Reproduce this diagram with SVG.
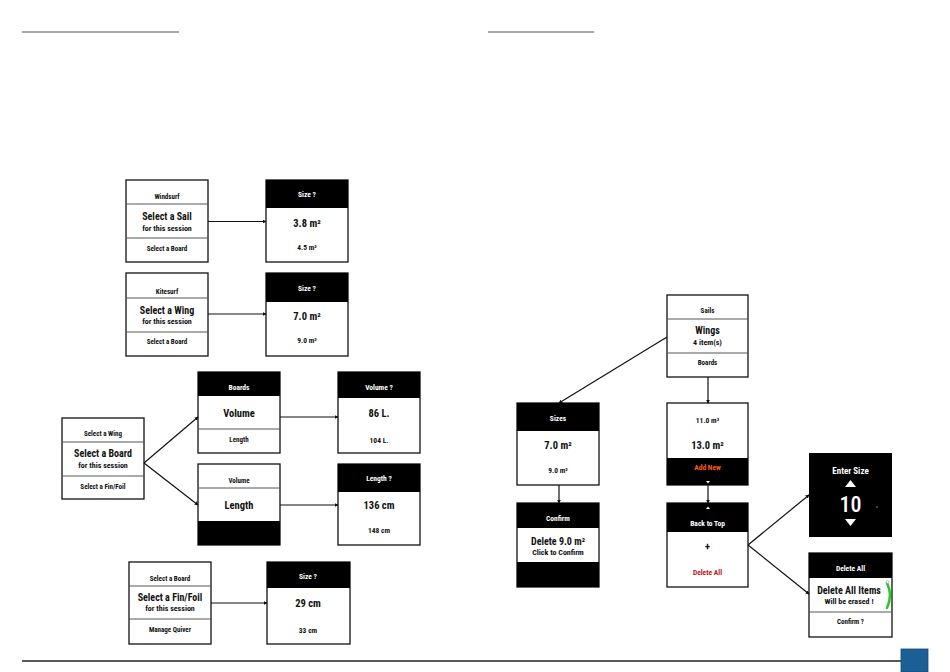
<svg xmlns="http://www.w3.org/2000/svg" width="950" height="672" viewBox="0 0 950 672">
<defs>
<style>
text{font-family:"Roboto Condensed",Roboto,"Liberation Sans",sans-serif;font-weight:bold;text-anchor:middle;dominant-baseline:central;fill:#111}
.box{fill:#fff;stroke:#111;stroke-width:1.3}
.blk{fill:#000}
.div{stroke:#555;stroke-width:1}
.h{font-size:7px}
.hw{font-size:7.5px;fill:#fff}
.m{font-size:10px}
.s{font-size:7.5px}
.t{font-size:8px}
.v{font-size:10.5px}
.conn line{stroke:#111;stroke-width:1.2;marker-end:url(#ah)}
</style>
<marker id="ah" viewBox="0 0 6 6" refX="5" refY="3" markerWidth="4" markerHeight="4" orient="auto" markerUnits="userSpaceOnUse">
<path d="M0,0 L6,3 L0,6 z" fill="#111"/>
</marker>
</defs>
<rect width="950" height="672" fill="#fff"/>
<line x1="22" y1="32" x2="179" y2="32" stroke="#aaa" stroke-width="2"/>
<line x1="488" y1="32" x2="594" y2="32" stroke="#aaa" stroke-width="2"/>

<g id="windsurf">
<rect class="box" x="126" y="180" width="82" height="82"/>
<line class="div" x1="126" y1="204" x2="208" y2="204"/>
<line class="div" x1="126" y1="238" x2="208" y2="238"/>
<text class="h" x="167" y="197">Windsurf</text>
<text class="m" x="167" y="216">Select a Sail</text>
<text class="t" x="167" y="228">for this session</text>
<text class="h" x="167" y="249">Select a Board</text>
</g>
<g id="size1">
<rect class="box" x="266" y="180" width="82" height="82"/>
<rect class="blk" x="266" y="180" width="82" height="28"/>
<text class="hw" x="307" y="194">Size ?</text>
<text class="v" x="307" y="223">3.8 m²</text>
<text class="s" x="307" y="247">4.5 m²</text>
</g>

<g id="kitesurf">
<rect class="box" x="126" y="273" width="82" height="83"/>
<line class="div" x1="126" y1="298" x2="208" y2="298"/>
<line class="div" x1="126" y1="332" x2="208" y2="332"/>
<text class="h" x="167" y="292">Kitesurf</text>
<text class="m" x="167" y="310">Select a Wing</text>
<text class="t" x="167" y="321">for this session</text>
<text class="h" x="167" y="342">Select a Board</text>
</g>
<g id="size2">
<rect class="box" x="266" y="273" width="82" height="83"/>
<rect class="blk" x="266" y="273" width="82" height="29"/>
<text class="hw" x="307" y="288">Size ?</text>
<text class="v" x="307" y="316">7.0 m²</text>
<text class="s" x="307" y="340">9.0 m²</text>
</g>

<g id="board">
<rect class="box" x="62" y="418" width="82" height="81"/>
<line class="div" x1="62" y1="442" x2="144" y2="442"/>
<line class="div" x1="62" y1="476" x2="144" y2="476"/>
<text class="h" x="103" y="434">Select a Wing</text>
<text class="m" x="103" y="453">Select a Board</text>
<text class="t" x="103" y="465">for this session</text>
<text class="h" x="103" y="487">Select a Fin/Foil</text>
</g>
<g id="boards">
<rect class="box" x="198" y="372" width="82" height="81"/>
<rect class="blk" x="198" y="372" width="82" height="24"/>
<line class="div" x1="198" y1="429" x2="280" y2="429"/>
<text class="hw" x="239" y="387">Boards</text>
<text class="v" x="239" y="413">Volume</text>
<text class="h" x="239" y="440">Length</text>
</g>
<g id="volume">
<rect class="box" x="198" y="464" width="82" height="81"/>
<line class="div" x1="198" y1="488" x2="280" y2="488"/>
<rect class="blk" x="198" y="521" width="82" height="24"/>
<text class="h" x="239" y="481">Volume</text>
<text class="v" x="239" y="505">Length</text>
</g>
<g id="volq">
<rect class="box" x="338" y="372" width="82" height="81"/>
<rect class="blk" x="338" y="372" width="82" height="26"/>
<text class="hw" x="379" y="387">Volume ?</text>
<text class="v" x="379" y="413">86 L.</text>
<text class="s" x="379" y="440">104 L.</text>
</g>
<g id="lenq">
<rect class="box" x="338" y="464" width="82" height="81"/>
<rect class="blk" x="338" y="464" width="82" height="28"/>
<text class="hw" x="379" y="478">Length ?</text>
<text class="v" x="379" y="505">136 cm</text>
<text class="s" x="379" y="530">148 cm</text>
</g>

<g id="finfoil">
<rect class="box" x="129" y="562" width="82" height="82"/>
<line class="div" x1="129" y1="586" x2="211" y2="586"/>
<line class="div" x1="129" y1="619" x2="211" y2="619"/>
<text class="h" x="170" y="579">Select a Board</text>
<text class="m" x="170" y="597">Select a Fin/Foil</text>
<text class="t" x="170" y="608">for this session</text>
<text class="h" x="170" y="630">Manage Quiver</text>
</g>
<g id="size3">
<rect class="box" x="267" y="562" width="83" height="82"/>
<rect class="blk" x="267" y="562" width="83" height="26"/>
<text class="hw" x="308" y="576">Size ?</text>
<text class="v" x="308" y="603">29 cm</text>
<text class="s" x="308" y="630">33 cm</text>
</g>

<g id="sails">
<rect class="box" x="667" y="295" width="81" height="82"/>
<line class="div" x1="667" y1="319" x2="748" y2="319"/>
<line class="div" x1="667" y1="353" x2="748" y2="353"/>
<text class="h" x="707.5" y="311">Sails</text>
<text class="m" x="707.5" y="330">Wings</text>
<text class="t" x="707.5" y="342">4 item(s)</text>
<text class="h" x="707.5" y="363">Boards</text>
</g>
<g id="sizes">
<rect class="box" x="517" y="403" width="82" height="82"/>
<rect class="blk" x="517" y="403" width="82" height="28"/>
<text class="hw" x="558" y="418">Sizes</text>
<text class="v" x="558" y="445">7.0 m²</text>
<text class="s" x="558" y="470">9.0 m²</text>
</g>
<g id="list">
<rect class="box" x="667" y="403" width="81" height="82"/>
<rect class="blk" x="667" y="458" width="81" height="27"/>
<text class="s" x="707.5" y="420">11.0 m²</text>
<text class="v" x="707.5" y="445">13.0 m²</text>
<text class="hw" x="707.5" y="467" style="fill:#ff5a1a">Add New</text>
<path d="M706,481 L710,481 L708,483.5 z" fill="#fff"/>
</g>
<g id="confirm">
<rect class="box" x="517" y="503" width="82" height="84"/>
<rect class="blk" x="517" y="503" width="82" height="25"/>
<rect class="blk" x="517" y="562" width="82" height="25"/>
<text class="hw" x="558" y="518">Confirm</text>
<text class="m" x="558" y="541">Delete 9.0 m²</text>
<text class="t" x="558" y="552">Click to Confirm</text>
</g>
<g id="backtop">
<rect class="box" x="667" y="503" width="81" height="84"/>
<rect class="blk" x="667" y="503" width="81" height="29"/>
<path d="M706,509 L710,509 L708,506.5 z" fill="#fff"/>
<text class="hw" x="707.5" y="523">Back to Top</text>
<text class="v" x="707.5" y="546">+</text>
<text class="s" x="707.5" y="572" style="fill:#c41414">Delete All</text>
</g>
<g id="entersize">
<rect x="809" y="453" width="83" height="84" fill="#000"/>
<text class="hw" x="850.5" y="471" style="font-size:9px">Enter Size</text>
<path d="M845,487 L856,487 L850.5,480 z" fill="#fff"/>
<text x="850.5" y="504" style="font-size:22px;font-weight:500;fill:#fff">10</text>
<path d="M845,519 L856,519 L850.5,526 z" fill="#fff"/>
<circle cx="877" cy="507" r="0.7" fill="#aaa"/>
</g>
<g id="deleteall">
<rect class="box" x="809" y="553" width="83" height="84"/>
<rect class="blk" x="809" y="553" width="83" height="25"/>
<line class="div" x1="809" y1="612" x2="892" y2="612"/>
<text class="hw" x="850.5" y="568">Delete All</text>
<text class="m" x="849" y="590">Delete All Items</text>
<text class="t" x="849" y="601">Will be erased !</text>
<path d="M887,583 Q893,595 887,608" fill="none" stroke="#22cc22" stroke-width="2.5" stroke-linecap="round"/>
<circle cx="887.5" cy="582" r="1.4" fill="#fff" stroke="#999" stroke-width="0.6"/>
<text class="h" x="850.5" y="622">Confirm ?</text>
</g>

<g class="conn" id="connectors">
<line x1="208" y1="221.5" x2="266" y2="221.5"/>
<line x1="208" y1="314" x2="266" y2="314"/>
<line x1="144" y1="463" x2="198" y2="417"/>
<line x1="144" y1="463" x2="198" y2="505"/>
<line x1="280" y1="417" x2="338" y2="417"/>
<line x1="280" y1="505" x2="338" y2="505"/>
<line x1="211" y1="603" x2="267" y2="603"/>
<line x1="667" y1="337" x2="559" y2="403"/>
<line x1="708" y1="377" x2="708" y2="403"/>
<line x1="559" y1="485" x2="559" y2="503"/>
<line x1="708" y1="485" x2="708" y2="503"/>
<line x1="748" y1="545" x2="809" y2="495"/>
<line x1="748" y1="545" x2="809" y2="594"/>
</g>

<line x1="22" y1="661" x2="901" y2="661" stroke="#222" stroke-width="1.5"/>
<rect x="901" y="649" width="27" height="23" fill="#1a5f96" stroke="#154a75" stroke-width="0.8"/>
</svg>
